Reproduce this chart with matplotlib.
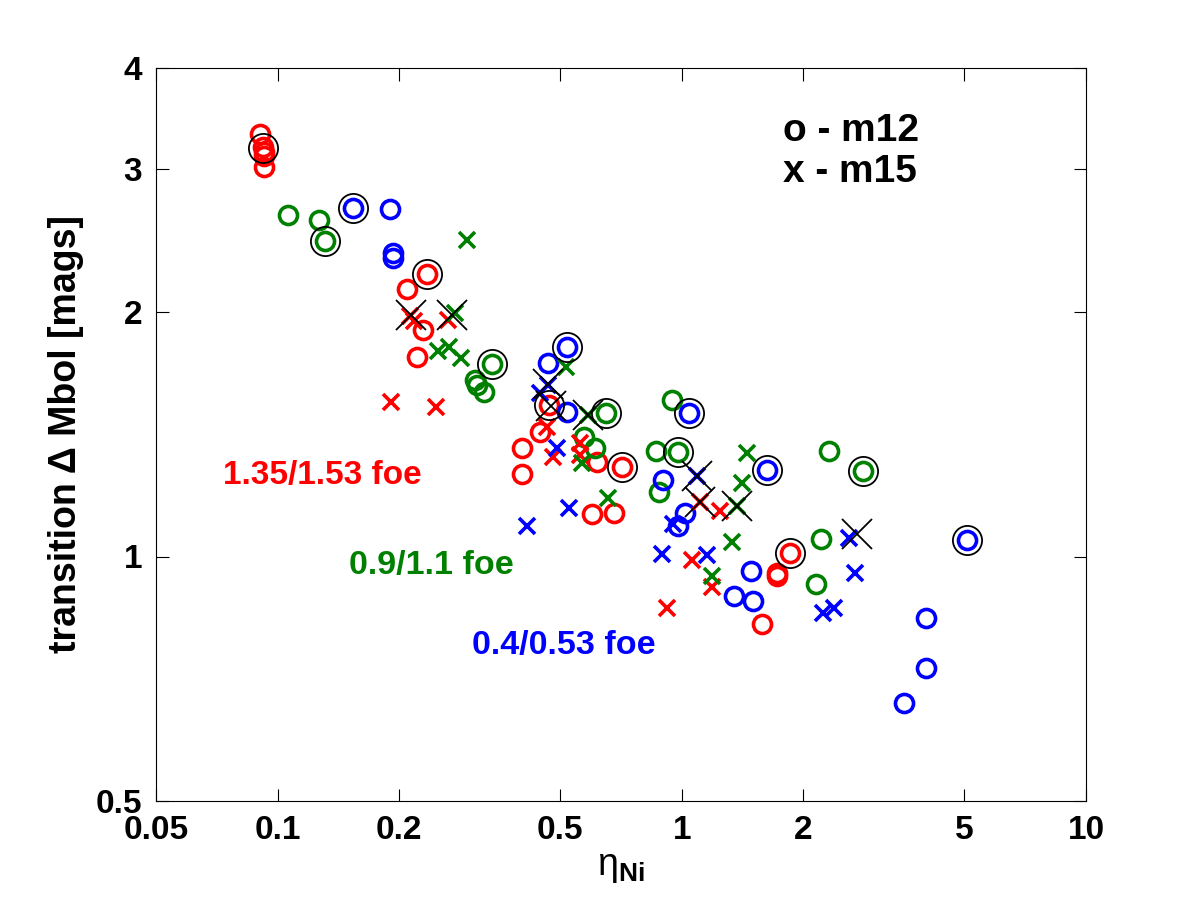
import numpy as np
import matplotlib
matplotlib.use("Agg")
import matplotlib.pyplot as plt
from matplotlib.ticker import NullLocator

plt.rcParams['font.family'] = ['Liberation Sans', 'DejaVu Sans']
plt.rcParams['mathtext.fontset'] = 'custom'
plt.rcParams['mathtext.rm'] = 'Liberation Sans'
plt.rcParams['mathtext.bf'] = 'Liberation Sans:bold'
plt.rcParams['mathtext.it'] = 'Liberation Sans:italic'

# m12 (circles) / m15 (crosses), three explosion energies
red_o_x = [0.0903, 0.0918, 0.0924, 0.0924, 0.0924, 0.2346, 0.2094, 0.2294, 0.2216,
           0.4027, 0.4027, 0.4461, 0.4694, 0.6168, 0.711, 0.5995, 0.679, 1.848,
           1.716, 1.716, 1.576]
red_o_y = [3.31, 3.19, 3.15, 3.11, 3.02, 2.23, 2.135, 1.90, 1.76,
           1.36, 1.262, 1.422, 1.536, 1.306, 1.288, 1.127, 1.130, 1.011,
           0.9556, 0.9475, 0.827]

red_x_x = [0.213, 0.218, 0.2644, 0.1912, 0.247, 0.4642, 0.480, 0.560, 0.560,
           1.108, 1.241, 1.059, 1.186, 0.918]
red_x_y = [1.978, 1.95, 1.955, 1.549, 1.527, 1.443, 1.325, 1.378, 1.332,
           1.166, 1.139, 0.991, 0.916, 0.863]

green_o_x = [0.1059, 0.1262, 0.1306, 0.3395, 0.3083, 0.3118, 0.3245, 0.649, 0.573,
             0.610, 0.945, 0.863, 0.977, 0.877, 2.307, 2.814, 2.204, 2.142]
green_o_y = [2.635, 2.597, 2.447, 1.725, 1.649, 1.626, 1.594, 1.501, 1.402,
             1.359, 1.557, 1.347, 1.344, 1.20, 1.347, 1.273, 1.052, 0.926]

green_x_x = [0.2945, 0.275, 0.2497, 0.266, 0.2847, 0.517, 0.566, 0.586, 0.656,
             1.407, 1.447, 1.367, 1.329, 1.186]
green_x_y = [2.454, 1.994, 1.790, 1.811, 1.755, 1.711, 1.302, 1.493, 1.182,
             1.23, 1.34, 1.153, 1.043, 0.945]

blue_o_x = [0.154, 0.190, 0.1934, 0.1934, 0.520, 0.467, 0.520, 1.041, 0.898,
            1.017, 0.977, 1.621, 1.481, 1.344, 1.497, 5.085, 4.026, 4.026, 3.553]
blue_o_y = [2.688, 2.68, 2.364, 2.331, 1.811, 1.730, 1.505, 1.501, 1.241,
            1.130, 1.089, 1.277, 0.961, 0.893, 0.882, 1.049, 0.841, 0.730, 0.661]

blue_x_x = [0.446, 0.491, 0.526, 0.414, 1.089, 0.950, 1.153, 0.892, 2.599,
            2.675, 2.229, 2.373, 0.467]
blue_x_y = [1.589, 1.359, 1.146, 1.089, 1.255, 1.095, 1.003, 1.006, 1.055,
            0.953, 0.851, 0.865, 1.626]

# highlighted models
ring_x = [0.0918, 0.1306, 0.154, 0.2346, 0.3395, 0.520, 0.4694, 0.649, 0.711,
          1.041, 0.977, 1.621, 1.848, 2.814, 5.085]
ring_y = [3.18, 2.447, 2.688, 2.23, 1.725, 1.811, 1.536, 1.501, 1.288,
          1.501, 1.344, 1.277, 1.011, 1.273, 1.049]

bigx_x = [0.214, 0.2705, 0.467, 0.4748, 0.586, 1.089, 1.108, 1.367, 2.705]
bigx_y = [1.982, 1.982, 1.630, 1.531, 1.493, 1.255, 1.166, 1.153, 1.067]

xticks = [0.05, 0.1, 0.2, 0.5, 1, 2, 5, 10]
xtick_labels = ['0.05', '0.1', '0.2', '0.5', '1', '2', '5', '10']
yticks = [0.5, 1, 2, 3, 4]
ytick_labels = ['0.5', '1', '2', '3', '4']

red = (1, 0, 0)
green = (0, 0.5, 0)
blue = (0, 0, 1)

fig = plt.figure(figsize=(12, 9), dpi=100)
ax = fig.add_axes([0.13, 0.11, 0.775, 0.815])

o_kw = dict(ls='none', marker='o', ms=13, mfc='none', mew=2.6)
x_kw = dict(ls='none', marker='x', ms=12, mew=2.6)

ax.plot(red_o_x, red_o_y, color=red, **o_kw)
ax.plot(green_o_x, green_o_y, color=green, **o_kw)
ax.plot(blue_o_x, blue_o_y, color=blue, **o_kw)
ax.plot(red_x_x, red_x_y, color=red, **x_kw)
ax.plot(green_x_x, green_x_y, color=green, **x_kw)
ax.plot(blue_x_x, blue_x_y, color=blue, **x_kw)

ax.plot(ring_x, ring_y, ls='none', marker='o', ms=21, mfc='none', mec='k', mew=1.3)
ax.plot(bigx_x, bigx_y, ls='none', marker='x', ms=21, color='k', mew=1.3)

ax.set_xscale('log')
ax.set_yscale('log')
ax.set_xlim(0.05, 10)
ax.set_ylim(0.5, 4)
ax.set_xticks(xticks, xtick_labels)
ax.set_yticks(yticks, ytick_labels)
ax.xaxis.set_minor_locator(NullLocator())
ax.yaxis.set_minor_locator(NullLocator())
ax.tick_params(which='major', direction='in', length=9, width=0.8,
               top=True, right=True, labelsize=24, pad=10)
for lab in ax.get_xticklabels() + ax.get_yticklabels():
    lab.set_fontweight('bold')
for sp in ax.spines.values():
    sp.set_linewidth(0.8)

ax.set_xlabel(r'$\mathrm{\eta}_{\mathbf{Ni}}$', fontsize=27, labelpad=2)
ax.set_ylabel('transition Δ Mbol [mags]', fontsize=27, fontweight='bold', labelpad=8)

ax.text(0.674, 0.913, 'o - m12', transform=ax.transAxes, fontsize=28,
        fontweight='bold', va='center', ha='left', color='k')
ax.text(0.674, 0.857, 'x - m15', transform=ax.transAxes, fontsize=28,
        fontweight='bold', va='center', ha='left', color='k')
ax.text(0.072, 0.444, '1.35/1.53 foe', transform=ax.transAxes, fontsize=24,
        fontweight='bold', va='center', ha='left', color=red)
ax.text(0.207, 0.321, '0.9/1.1 foe', transform=ax.transAxes, fontsize=24.5,
        fontweight='bold', va='center', ha='left', color=green)
ax.text(0.340, 0.212, '0.4/0.53 foe', transform=ax.transAxes, fontsize=24.5,
        fontweight='bold', va='center', ha='left', color=blue)

fig.savefig('out.png', dpi=100)
